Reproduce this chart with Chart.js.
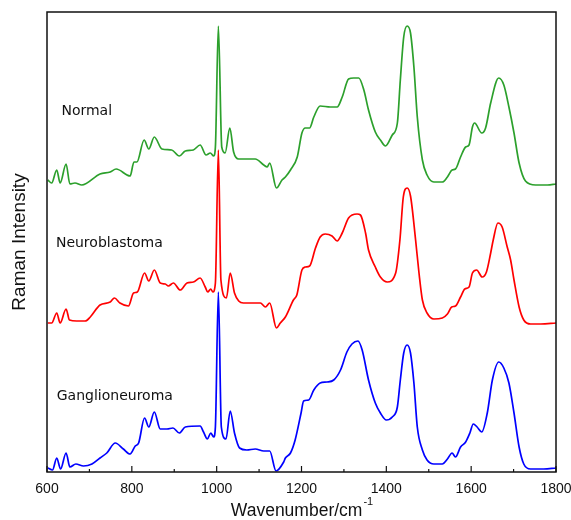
<!DOCTYPE html>
<html>
<head>
<meta charset="utf-8">
<script src="https://cdn.jsdelivr.net/npm/chart.js@4.4.1/dist/chart.umd.min.js"></script>
<style>
  html, body { margin: 0; padding: 0; background: #fff; }
  #wrap { width: 571px; height: 520px; }
</style>
</head>
<body>
<div id="wrap"><canvas id="ramanChart" width="571" height="520"></canvas></div>
<script>
// spectra (wavenumber, offset intensity in arbitrary units)
const normalX = [602, 611, 623, 631, 645, 654, 666, 682, 725, 749, 763, 796, 805, 812, 829, 840, 853, 871, 894, 912, 926, 945, 961, 975, 985, 993, 997, 1004, 1012, 1020, 1031, 1040, 1052, 1071, 1091, 1111, 1119, 1125, 1141, 1154, 1162, 1174, 1190, 1201, 1209, 1219, 1229, 1244, 1268, 1284, 1296, 1311, 1323, 1335, 1347, 1358, 1374, 1386, 1398, 1414, 1426, 1433, 1441, 1449, 1457, 1465, 1473, 1485, 1496, 1512, 1532, 1544, 1555, 1563, 1575, 1587, 1595, 1603, 1608, 1625, 1634, 1646, 1665, 1677, 1689, 1701, 1713, 1728, 1752, 1780, 1800];
const normalY = [292, 289, 302, 289, 308, 288, 289, 287, 298, 300, 303, 296, 310, 310, 332, 323, 335, 323, 322, 316, 321, 322, 327, 317, 319, 316, 325, 446, 325, 319, 344, 320, 313, 313, 313, 307, 305, 309, 284, 292, 295, 302, 315, 339, 344, 344, 355, 366, 365, 365, 375, 393, 394, 394, 382, 362, 340, 332, 326, 337, 349, 392, 435, 446, 439, 405, 355, 312, 297, 290, 290, 295, 302, 303, 315, 325, 327, 345, 349, 339, 344, 369, 394, 387, 365, 339, 309, 291, 287, 287, 288];

const neuroX = [602, 611, 623, 631, 645, 653, 670, 690, 702, 725, 749, 759, 772, 792, 804, 813, 830, 840, 853, 867, 879, 886, 898, 914, 930, 945, 961, 973, 979, 986, 991, 997, 1004, 1010, 1023, 1032, 1042, 1052, 1063, 1079, 1103, 1115, 1125, 1141, 1150, 1162, 1181, 1189, 1201, 1209, 1219, 1233, 1244, 1256, 1272, 1284, 1296, 1311, 1331, 1339, 1351, 1358, 1374, 1386, 1402, 1422, 1432, 1440, 1449, 1457, 1469, 1477, 1485, 1496, 1512, 1532, 1544, 1554, 1563, 1575, 1585, 1595, 1603, 1613, 1626, 1636, 1646, 1652, 1663, 1673, 1685, 1693, 1701, 1713, 1724, 1740, 1764, 1800];
const neuroY = [149, 149, 159, 149, 163, 152, 151, 151, 155, 167, 170, 174, 169, 166, 179, 180, 199, 191, 202, 189, 188, 186, 189, 182, 189, 190, 194, 185, 180, 183, 180, 189, 322, 192, 174, 199, 179, 171, 169, 169, 169, 165, 169, 144, 149, 155, 172, 177, 202, 205, 206, 224, 235, 238, 236, 231, 239, 254, 258, 257, 239, 222, 205, 195, 190, 199, 232, 275, 284, 276, 232, 199, 172, 159, 153, 154, 158, 165, 166, 175, 183, 185, 199, 202, 195, 200, 219, 232, 249, 245, 225, 212, 192, 165, 152, 148, 148, 149];

const gangX = [602, 613, 623, 632, 645, 654, 668, 686, 706, 725, 741, 761, 780, 796, 808, 816, 830, 840, 853, 867, 883, 897, 912, 926, 961, 969, 978, 986, 993, 997, 1004, 1011, 1022, 1032, 1042, 1054, 1071, 1091, 1111, 1125, 1140, 1158, 1162, 1174, 1185, 1199, 1205, 1217, 1229, 1244, 1260, 1276, 1292, 1307, 1319, 1333, 1343, 1358, 1374, 1386, 1400, 1414, 1426, 1433, 1441, 1449, 1457, 1465, 1473, 1485, 1496, 1512, 1532, 1544, 1555, 1563, 1575, 1587, 1597, 1605, 1614, 1625, 1638, 1650, 1665, 1677, 1689, 1701, 1713, 1724, 1740, 1771, 1800];
const gangY = [4, 2, 14, 3, 19, 5, 8, 6, 8, 14, 19, 29, 23, 18, 26, 29, 54, 45, 60, 43, 43, 44, 39, 45, 46, 40, 33, 39, 35, 45, 180, 45, 33, 61, 39, 24, 22, 23, 21, 21, 1, 10, 14, 19, 32, 59, 71, 72, 82, 89, 90, 92, 102, 120, 128, 131, 122, 92, 69, 59, 52, 55, 65, 92, 119, 127, 119, 89, 45, 22, 12, 8, 8, 13, 19, 15, 25, 30, 39, 48, 45, 40, 59, 92, 110, 104, 89, 59, 25, 8, 3, 3, 4];

const xTicks = [600, 800, 1000, 1200, 1400, 1600, 1800];
const sampleNames = ['Normal', 'Neuroblastoma', 'Ganglioneuroma'];

function pairs(xs, ys) {
  return xs.map((x, i) => ({ x: x, y: ys[i] }));
}

// frame, inward ticks, sample labels and the x title with superscript
const framePlugin = {
  id: 'frame',
  afterDraw(chart) {
    const c = chart.ctx;
    const a = chart.chartArea;
    const xs = chart.scales.x;
    const ys = chart.scales.y;
    c.save();
    c.strokeStyle = '#111';
    c.lineWidth = 1.5;
    c.strokeRect(a.left, a.top, a.right - a.left, a.bottom - a.top);
    c.lineWidth = 1.2;
    for (let v = 600; v <= 1800; v += 100) {
      const px = xs.getPixelForValue(v);
      const len = v % 200 === 0 ? 6 : 3;
      c.beginPath();
      c.moveTo(px, a.bottom);
      c.lineTo(px, a.bottom - len);
      c.stroke();
    }

    c.fillStyle = '#111';
    c.font = '14px "DejaVu Sans"';
    c.textBaseline = 'middle';
    c.textAlign = 'left';
    c.fillText(sampleNames[0], xs.getPixelForValue(634), ys.getPixelForValue(361));
    c.fillText(sampleNames[1], xs.getPixelForValue(621), ys.getPixelForValue(229));
    c.fillText(sampleNames[2], xs.getPixelForValue(623), ys.getPixelForValue(76));

    // x axis title
    c.textBaseline = 'alphabetic';
    const main = 'Wavenumber/cm';
    c.font = '11px "Liberation Sans", Arial';
    const supW = c.measureText('-1').width;
    c.font = '17.5px "Liberation Sans", Arial';
    const mainW = c.measureText(main).width;
    const cx = (a.left + a.right) / 2;
    const x0 = cx - (mainW + supW) / 2;
    c.fillText(main, x0, 516);
    c.font = '11px "Liberation Sans", Arial';
    c.fillText('-1', x0 + mainW + 1, 505);
    c.restore();
  }
};

const ctx = document.getElementById('ramanChart').getContext('2d');
const ramanChart = new Chart(ctx, {
  type: 'scatter',
  data: {
    datasets: [
      { label: sampleNames[0], data: pairs(normalX, normalY), borderColor: '#2ca02c' },
      { label: sampleNames[1], data: pairs(neuroX, neuroY), borderColor: '#ff0000' },
      { label: sampleNames[2], data: pairs(gangX, gangY), borderColor: '#0000ff' }
    ]
  },
  options: {
    responsive: false,
    animation: false,
    showLine: true,
    layout: { padding: { top: 12, right: 15, left: 0, bottom: 0 } },
    elements: {
      point: { radius: 0, hoverRadius: 0 },
      line: { borderWidth: 1.7, cubicInterpolationMode: 'monotone', fill: false }
    },
    plugins: {
      legend: { display: false },
      tooltip: { enabled: false }
    },
    scales: {
      x: {
        type: 'linear',
        min: 600,
        max: 1800,
        afterBuildTicks: scale => { scale.ticks = xTicks.map(v => ({ value: v })); },
        afterFit: scale => {
          scale.height = 48;
          scale.paddingLeft = 0;
          scale.paddingRight = 0;
        },
        grid: { display: false, drawTicks: false },
        border: { display: false },
        ticks: {
          color: '#111',
          padding: 9,
          maxRotation: 0,
          callback: v => String(v),
          font: { family: '"Liberation Sans", Arial', size: 14 }
        }
      },
      y: {
        min: 0,
        max: 460,
        afterFit: scale => {
          scale.width = 47;
          scale.paddingTop = 0;
          scale.paddingBottom = 0;
        },
        grid: { display: false, drawTicks: false },
        border: { display: false },
        ticks: { display: false },
        title: {
          display: true,
          text: 'Raman Intensity',
          color: '#111',
          padding: { top: 8, bottom: 0 },
          font: { family: '"Liberation Sans", Arial', size: 19 }
        }
      }
    }
  },
  plugins: [framePlugin]
});
</script>
</body>
</html>
